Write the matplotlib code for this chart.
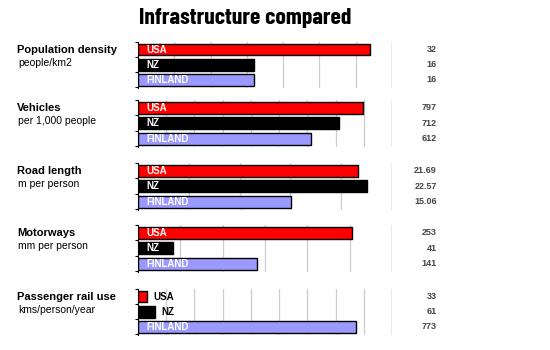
import matplotlib
matplotlib.use("Agg")
import matplotlib.pyplot as plt

countries = ["USA", "NZ", "FINLAND"]
colors = ["#ff0000", "#000000", "#9999ff"]

metrics = ["Population density", "Vehicles", "Road length", "Motorways", "Passenger rail use"]
units = ["people/km2", "per 1,000 people", "m per person", "mm per person", "kms/person/year"]

pop_density = [32, 16, 16]
vehicles = [797, 712, 612]
road_length = [21.69, 22.57, 15.06]
motorways = [253, 41, 141]
rail_use = [33, 61, 773]
series = [pop_density, vehicles, road_length, motorways, rail_use]

# axis scale for each panel
axis_max = [35, 900, 25, 300, 900]
grid_step = [5, 100, 5, 50, 100]

W, H = 550, 350
plt.rcParams["font.family"] = ["Liberation Sans", "DejaVu Sans"]

fig = plt.figure(figsize=(W / 100, H / 100), dpi=100)
fig.patch.set_facecolor("white")

fig.text(245 / W, 1 - 18 / H, "Infrastructure compared", ha="center", va="center",
         fontsize=17, fontweight="bold",
         family=["Barlow Condensed", "Archivo Narrow", "Liberation Sans"])

# panel boxes in pixels: top, bottom
panel_y = [(42, 88), (100, 147), (163, 210), (225, 272), (289, 335)]
x0, x1 = 138, 392

for i, vals in enumerate(series):
    top, bot = panel_y[i]
    ax = fig.add_axes([x0 / W, 1 - bot / H, (x1 - x0) / W, (bot - top) / H])
    xmax = axis_max[i]
    step = grid_step[i]
    ax.set_xlim(0, xmax)
    ax.set_ylim(2.55, -0.5)
    for g in range(step, xmax, step):
        ax.axvline(g, color="#cccccc", lw=0.9, zorder=0)
    ax.axvline(xmax, color="#999999", lw=1.0, zorder=0)

    ax.barh(range(3), vals, height=0.78, color=colors, edgecolor="black", lw=1.0, zorder=2)

    for j, v in enumerate(vals):
        if v / xmax > 0.12:
            ax.text(xmax * 8 / (x1 - x0), j, countries[j], ha="left", va="center",
                    color="white", fontsize=7, fontweight="bold", zorder=3)
        else:
            ax.text(v + xmax * 6 / (x1 - x0), j, countries[j], ha="left", va="center",
                    color="black", fontsize=7, fontweight="bold", zorder=3)

    for s in ["top", "right", "bottom"]:
        ax.spines[s].set_visible(False)
    ax.spines["left"].set_color("black")
    ax.spines["left"].set_linewidth(0.8)
    ax.set_xticks([])
    ax.set_yticks([-0.5, 0.5, 1.5, 2.5])
    ax.set_yticklabels([])
    ax.tick_params(axis="y", length=2, width=0.8, direction="out")

    # value column on the right
    for j, v in enumerate(vals):
        yc = top + (j + 0.5) * (bot - top) / 3.05
        fig.text(437 / W, 1 - yc / H, f"{v:g}", ha="right", va="center",
                 fontsize=6.5, fontweight="bold", color="#444444")

    fig.text(17 / W, 1 - (top + 8) / H, metrics[i], ha="left", va="center",
             fontsize=8, fontweight="bold", color="black")
    fig.text(18 / W, 1 - (top + 21) / H, units[i], ha="left", va="center",
             fontsize=7.5, color="black")

fig.savefig("out.png", dpi=100, facecolor="white")
